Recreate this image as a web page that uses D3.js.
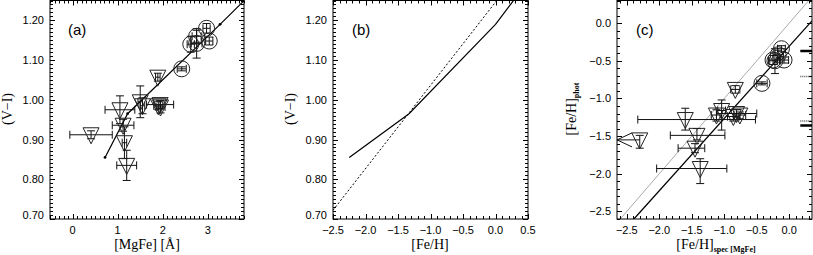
<!DOCTYPE html>
<html lang="en">
<head>
<meta charset="UTF-8">
<title>(V-I) vs [MgFe] and [Fe/H]</title>
<script src="https://d3js.org/d3.v7.min.js"></script>
<style>
  body { margin: 0; background: #fff; }
  svg { display: block; }
  .tick-label { font: 11px "Liberation Sans", Arial, sans-serif; fill: #000; }
  .axis-title { font: 14px "Liberation Serif", "Times New Roman", serif; fill: #000; }
  .panel-tag { font: 15px "Liberation Sans", Arial, sans-serif; fill: #000; }
</style>
</head>
<body>
<script>
// ---- panel (a): model line and data, [MgFe] vs (V-I)
const modelMgFe = [0.72, 1.22, 3.27, 3.85];
const modelVI   = [0.855, 0.965, 1.19, 1.255];

const circMgFe = [2.97, 2.75, 2.62, 2.75, 3.03, 2.42];
const circVI   = [1.180, 1.160, 1.140, 1.142, 1.148, 1.078];
const circErrX = [0.08, 0.10, 0.08, 0.12, 0.08, 0.10];
const circErrY = [0.012, 0.015, 0.02, 0.037, 0.01, 0.005];

const triMgFe = [1.89, 1.50, 1.55, 1.94, 1.90, 1.95, 1.05, 1.12, 0.41, 1.15, 1.20];
const triVI   = [1.057, 0.995, 0.985, 0.988, 0.985, 0.982, 0.975, 0.936, 0.912, 0.892, 0.835];
const triErrX = [0.05, 0.05, 0.05, 0.30, 0.10, 0.10, 0.33, 0.24, 0.47, 0.05, 0.22];
const triErrY = [0.010, 0.040, 0.020, 0.010, 0.010, 0.015, 0.035, 0.015, 0.010, 0.040, 0.038];

// ---- panel (b): model (solid) and linear relation (dashed)
const modelFeH = [-2.25, -1.33, 0.0, 0.3];
const dashFeH  = [-2.5, 0.02];
const dashVI   = [0.722, 1.25];

// ---- panel (c): [Fe/H]spec vs [Fe/H]phot
const oneToOne = [-2.65, 0.3];
const fitSpec  = [-2.39, 0.35];
const fitPhot  = [-2.60, 0.03];

const cTriSpec = [-2.30, -1.60, -1.42, -1.45, -1.37, -0.83, -1.04, -1.12, -0.81, -0.76, -0.86];
const cTriPhot = [-1.55, -1.28, -1.49, -1.66, -1.93, -0.88, -1.16, -1.22, -1.20, -1.22, -1.24];
const cTriXLo  = [-2.30, -2.33, -1.83, -1.71, -2.04, -0.90, -1.10, -1.20, -1.12, -0.85, -0.95];
const cTriXHi  = [-2.30, -0.52, -0.99, -1.30, -0.96, -0.76, -0.98, -1.04, -0.50, -0.67, -0.77];
const cTriYLo  = [-1.66, -1.42, -1.55, -1.72, -2.13, -0.93, -1.42, -1.30, -1.25, -1.27, -1.30];
const cTriYHi  = [-1.49, -1.13, -1.40, -1.60, -1.80, -0.83, -1.02, -1.15, -1.15, -1.18, -1.20];
const cUpperLimit = [true, false, false, false, false, false, false, false, false, false, false];

const cCircSpec = [-0.12, -0.25, -0.08, -0.17, -0.22, -0.42];
const cCircPhot = [-0.34, -0.49, -0.49, -0.42, -0.50, -0.80];
const cCircXLo  = [-0.18, -0.32, -0.15, -0.25, -0.30, -0.50];
const cCircXHi  = [-0.06, -0.18, -0.01, -0.09, -0.14, -0.34];
const cCircYLo  = [-0.38, -0.55, -0.53, -0.48, -0.67, -0.82];
const cCircYHi  = [-0.30, -0.43, -0.45, -0.36, -0.34, -0.78];

const solidLevels  = [-0.37, -1.36];
const dottedLevels = [-0.71, -1.30];
const levelFrom = 0.17;

const W = 813, H = 255;
const plotTop = 0.5, plotBottom = 219;

const svg = d3.select("body").append("svg")
    .attr("width", W)
    .attr("height", H);

function ticksBetween(d0, d1, step) {
    const lo = Math.min(d0, d1), hi = Math.max(d0, d1);
    const out = [];
    for (let i = Math.ceil(lo / step - 1e-6); i <= Math.floor(hi / step + 1e-6); i++) out.push(+(i * step).toFixed(4));
    return out;
}

// IDL style box with inward ticks on all four sides
function drawFrame(g, x, y, cfg) {
    const [x0, x1] = x.range(), [y1, y0] = y.range();
    const major = 5, minor = 3;
    const ticks = g.append("g").attr("stroke", "#000").attr("stroke-width", 1);
    const xMinor = ticksBetween(...x.domain(), cfg.xMinor);
    const yMinor = ticksBetween(...y.domain(), cfg.yMinor);
    const isMajor = (v, list) => list.some(m => Math.abs(m - v) < 1e-6);
    xMinor.forEach(v => {
        const px = Math.round(x(v)) + 0.5, len = isMajor(v, cfg.xMajor) ? major : minor;
        ticks.append("line").attr("x1", px).attr("x2", px).attr("y1", y1).attr("y2", y1 - len);
        ticks.append("line").attr("x1", px).attr("x2", px).attr("y1", y0).attr("y2", y0 + len);
    });
    yMinor.forEach(v => {
        const py = Math.round(y(v)) + 0.5, len = isMajor(v, cfg.yMajor) ? major : minor;
        ticks.append("line").attr("x1", x0).attr("x2", x0 + len).attr("y1", py).attr("y2", py);
        ticks.append("line").attr("x1", x1).attr("x2", x1 - len).attr("y1", py).attr("y2", py);
    });
    g.append("rect")
        .attr("x", x0).attr("y", y0)
        .attr("width", x1 - x0).attr("height", y1 - y0)
        .attr("fill", "none").attr("stroke", "#000");

    const minus = s => s.replace("-", "\u2212");
    g.selectAll(null).data(cfg.xMajor).enter().append("text")
        .attr("class", "tick-label")
        .attr("x", d => x(d)).attr("y", 233.5)
        .attr("text-anchor", "middle")
        .text(d => minus(cfg.xFmt(d)));
    g.selectAll(null).data(cfg.yMajor).enter().append("text")
        .attr("class", "tick-label")
        .attr("x", x0 - 6).attr("y", d => Math.min(y(d), 215) + 4)
        .attr("text-anchor", "end")
        .text(d => minus(cfg.yFmt(d)));
}

function clipFor(id, x, y) {
    svg.append("clipPath").attr("id", id).append("rect")
        .attr("x", x.range()[0]).attr("y", y.range()[1])
        .attr("width", x.range()[1] - x.range()[0])
        .attr("height", y.range()[0] - y.range()[1]);
    return `url(#${id})`;
}

const triPath = "M-8,-7L8,-7L0,9Z";
const cap = 4;

function errBar(g, x1, y1, x2, y2, vertical) {
    g.append("line").attr("x1", x1).attr("y1", y1).attr("x2", x2).attr("y2", y2);
    if (vertical) {
        [y1, y2].forEach(yy => g.append("line").attr("x1", x1 - cap).attr("x2", x1 + cap).attr("y1", yy).attr("y2", yy));
    } else {
        [x1, x2].forEach(xx => g.append("line").attr("x1", xx).attr("x2", xx).attr("y1", y1 - cap).attr("y2", y1 + cap));
    }
}

function yTitle(text, cx, sub) {
    const t = svg.append("text")
        .attr("class", "axis-title")
        .attr("transform", `translate(${cx},109) rotate(-90)`)
        .attr("text-anchor", "middle")
        .text(text);
    if (sub) t.append("tspan").attr("dy", 3).attr("font-size", 8).attr("font-weight", "bold").text(sub);
}

// ================= panel (a)
const xa = d3.scaleLinear().domain([-0.5, 3.8]).range([50, 244]);
const ya = d3.scaleLinear().domain([0.70, 1.25]).range([plotBottom, plotTop]);
const ga = svg.append("g");
const clipA = clipFor("clipA", xa, ya);
const pa = ga.append("g").attr("clip-path", clipA);

pa.append("path")
    .datum(modelMgFe.map((v, i) => [v, modelVI[i]]))
    .attr("fill", "none").attr("stroke", "#000").attr("stroke-width", 1.2)
    .attr("d", d3.line().x(d => xa(d[0])).y(d => ya(d[1])));
pa.selectAll(".mdot").data(modelMgFe.slice(0, 3)).enter().append("circle")
    .attr("cx", d => xa(d)).attr("cy", (d, i) => ya(modelVI[i])).attr("r", 1.4);

const ebA = pa.append("g").attr("stroke", "#111").attr("stroke-width", 1);
triMgFe.forEach((v, i) => {
    const cx = xa(v), cy = ya(triVI[i]);
    errBar(ebA, xa(v - triErrX[i]), cy, xa(v + triErrX[i]), cy, false);
    errBar(ebA, cx, ya(triVI[i] - triErrY[i]), cx, ya(triVI[i] + triErrY[i]), true);
});
circMgFe.forEach((v, i) => {
    const cx = xa(v), cy = ya(circVI[i]);
    errBar(ebA, xa(v - circErrX[i]), cy, xa(v + circErrX[i]), cy, false);
    errBar(ebA, cx, ya(circVI[i] - circErrY[i]), cx, ya(circVI[i] + circErrY[i]), true);
});
pa.selectAll(".tri").data(triMgFe).enter().append("path")
    .attr("d", triPath)
    .attr("transform", (d, i) => `translate(${xa(d)},${ya(triVI[i])})`)
    .attr("fill", "none").attr("stroke", "#222");
pa.selectAll(".circ").data(circMgFe).enter().append("circle")
    .attr("cx", d => xa(d)).attr("cy", (d, i) => ya(circVI[i])).attr("r", 8)
    .attr("fill", "none").attr("stroke", "#222");

drawFrame(ga, xa, ya, {
    xMajor: [0, 1, 2, 3], xMinor: 0.1, xFmt: d3.format("d"),
    yMajor: [0.7, 0.8, 0.9, 1.0, 1.1, 1.2], yMinor: 0.01, yFmt: d3.format(".2f")
});
ga.append("text").attr("class", "panel-tag").attr("x", 68).attr("y", 35).text("(a)");
svg.append("text").attr("class", "axis-title").attr("x", 147).attr("y", 249)
    .attr("text-anchor", "middle").text("[MgFe] [\u00c5]");
yTitle("(V\u2212I)", 12);

// ================= panel (b)
const xb = d3.scaleLinear().domain([-2.5, 0.5]).range([333, 528]);
const yb = d3.scaleLinear().domain([0.70, 1.25]).range([plotBottom, plotTop]);
const gb = svg.append("g");
const pb = gb.append("g").attr("clip-path", clipFor("clipB", xb, yb));
pb.append("path")
    .datum(modelFeH.map((v, i) => [v, modelVI[i]]))
    .attr("fill", "none").attr("stroke", "#000").attr("stroke-width", 1.2)
    .attr("d", d3.line().x(d => xb(d[0])).y(d => yb(d[1])));
pb.append("path")
    .datum(dashFeH.map((v, i) => [v, dashVI[i]]))
    .attr("fill", "none").attr("stroke", "#000").attr("stroke-width", 1)
    .attr("stroke-dasharray", "2,2")
    .attr("d", d3.line().x(d => xb(d[0])).y(d => yb(d[1])));
drawFrame(gb, xb, yb, {
    xMajor: [-2.5, -2.0, -1.5, -1.0, -0.5, 0.0, 0.5], xMinor: 0.1, xFmt: d3.format(".1f"),
    yMajor: [0.7, 0.8, 0.9, 1.0, 1.1, 1.2], yMinor: 0.01, yFmt: d3.format(".2f")
});
gb.append("text").attr("class", "panel-tag").attr("x", 352).attr("y", 35).text("(b)");
svg.append("text").attr("class", "axis-title").attr("x", 430).attr("y", 249)
    .attr("text-anchor", "middle").text("[Fe/H]");
yTitle("(V\u2212I)", 295);

// ================= panel (c)
const xc = d3.scaleLinear().domain([-2.65, 0.35]).range([617, 812]);
const yc = d3.scaleLinear().domain([-2.6, 0.3]).range([plotBottom, plotTop]);
const gc = svg.append("g");
const pc = gc.append("g").attr("clip-path", clipFor("clipC", xc, yc));
const lineC = d3.line().x(d => xc(d[0])).y(d => yc(d[1]));
pc.append("path").datum(oneToOne.map(v => [v, v]))
    .attr("fill", "none").attr("stroke", "#aaa").attr("stroke-width", 1)
    .attr("d", lineC);
pc.append("path").datum(fitSpec.map((v, i) => [v, fitPhot[i]]))
    .attr("fill", "none").attr("stroke", "#000").attr("stroke-width", 1.3)
    .attr("d", lineC);

const ebC = pc.append("g").attr("stroke", "#111").attr("stroke-width", 1);
cTriSpec.forEach((v, i) => {
    const cx = xc(v), cy = yc(cTriPhot[i]);
    if (cTriXHi[i] > cTriXLo[i]) errBar(ebC, xc(cTriXLo[i]), cy, xc(cTriXHi[i]), cy, false);
    errBar(ebC, cx, yc(cTriYLo[i]), cx, yc(cTriYHi[i]), true);
    if (cUpperLimit[i]) {
        const x0 = xc.range()[0];
        ebC.append("line").attr("x1", x0).attr("x2", cx).attr("y1", cy).attr("y2", cy);
        ebC.append("polyline").attr("fill", "none")
            .attr("points", `${x0 + 15},${cy - 7} ${x0},${cy} ${x0 + 15},${cy + 7}`);
    }
});
cCircSpec.forEach((v, i) => {
    const cx = xc(v), cy = yc(cCircPhot[i]);
    errBar(ebC, xc(cCircXLo[i]), cy, xc(cCircXHi[i]), cy, false);
    errBar(ebC, cx, yc(cCircYLo[i]), cx, yc(cCircYHi[i]), true);
});
pc.selectAll(".tri").data(cTriSpec).enter().append("path")
    .attr("d", triPath)
    .attr("transform", (d, i) => `translate(${xc(d)},${yc(cTriPhot[i])})`)
    .attr("fill", "none").attr("stroke", "#222");
pc.selectAll(".circ").data(cCircSpec).enter().append("circle")
    .attr("cx", d => xc(d)).attr("cy", (d, i) => yc(cCircPhot[i])).attr("r", 8)
    .attr("fill", "none").attr("stroke", "#222");

pc.selectAll(".lvl").data(solidLevels).enter().append("line")
    .attr("x1", xc(levelFrom)).attr("x2", xc.range()[1])
    .attr("y1", d => yc(d)).attr("y2", d => yc(d))
    .attr("stroke", "#000").attr("stroke-width", 2.5);
pc.selectAll(".lvld").data(dottedLevels).enter().append("line")
    .attr("x1", xc(levelFrom)).attr("x2", xc.range()[1])
    .attr("y1", d => yc(d)).attr("y2", d => yc(d))
    .attr("stroke", "#555").attr("stroke-width", 1.5).attr("stroke-dasharray", "1,1");

drawFrame(gc, xc, yc, {
    xMajor: [-2.5, -2.0, -1.5, -1.0, -0.5, 0.0], xMinor: 0.1, xFmt: d3.format(".1f"),
    yMajor: [-2.5, -2.0, -1.5, -1.0, -0.5, 0.0], yMinor: 0.1, yFmt: d3.format(".1f")
});
gc.append("text").attr("class", "panel-tag").attr("x", 636).attr("y", 35).text("(c)");
const tc = svg.append("text").attr("class", "axis-title").attr("x", 716).attr("y", 249)
    .attr("text-anchor", "middle").text("[Fe/H]");
tc.append("tspan").attr("dy", 3).attr("font-size", 8).attr("font-weight", "bold").text("spec [MgFe]");
yTitle("[Fe/H]", 576, "phot");
</script>
</body>
</html>
